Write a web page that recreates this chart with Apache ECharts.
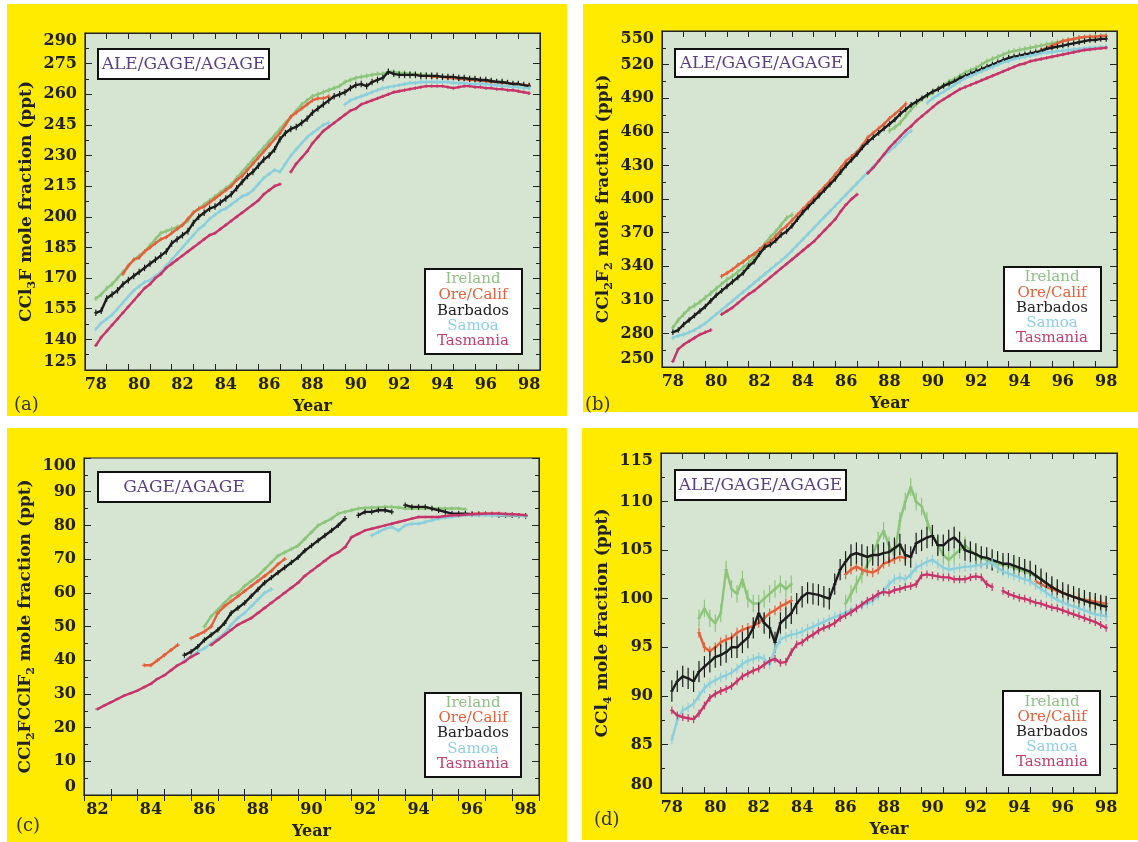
<!DOCTYPE html>
<html><head><meta charset="utf-8">
<script src="https://cdn.jsdelivr.net/npm/echarts@6/dist/echarts.min.js"></script>
<style>html,body{margin:0;padding:0;background:#fff}#c{width:1138px;height:842px}</style>
</head><body><div id="c"></div><script>
// ---------- DATA ----------
const stations = ['Ireland', 'Ore/Calif', 'Barbados', 'Samoa', 'Tasmania'];
const xTicksABD = [78,79,80,81,82,83,84,85,86,87,88,89,90,91,92,93,94,95,96,97,98,99];
const xLabelsABD = [78,80,82,84,86,88,90,92,94,96,98];
const xTicksC = [82,83,84,85,86,87,88,89,90,91,92,93,94,95,96,97,98,99];
const xLabelsC = [82,84,86,88,90,92,94,96,98];
const yTicksA = [125,140,155,170,185,200,215,230,245,260,275,290];
const yTicksB = [250,280,310,340,370,400,430,460,490,520,550];
const yTicksC = [0,10,20,30,40,50,60,70,80,90,100];
const yTicksD = [80,85,90,95,100,105,110,115];
// quarterly samples: four values per year (Jan, Apr, Jul, Oct)
const firstYearABD = 78, firstYearC = 82;

// (a) CCl3F
const cfc11Ireland = [null,null,160,162, 165,167,170,173, 176,179,181,183, 186,189,192,193, 194,195,196,198, 202,204,206,208, 210,212,214,216, 219,222,225,228, 231,234,237,240, 243,246,249,252, 255,257,259,260, 261,262,263,264, 266,267,268,268.5, 269,269.5,270,270, 271,271,270.5,270.5, 270,270,269.5,269.5, 269,269,268.5,268.5, 268,268,267.5,267.5, 267,267,266.5,266.5, 266,266,265.5,265, 265,264.5,264.5,null];
const cfc11OreCalif = [null,null,null,null, null,null,null,172, 176,179,180,183, 185,187,189,190, 192,194,196,199, 202,204,205,207, 209,211,213,215, 218,220,223,226, 229,232,235,238, 241,245,249,251, 253,255,257,258, 258,259,null,null, null,null,null,null, null,null,null,null, null,null,null,null, null,null,null,null, 268.5,268.5,268.5,268, 268,267.5,267.5,267, 267,266.5,266.5,266, 266,265.5,265.5,265, 265,264.5,264.5,null];
const cfc11Barbados = [null,null,153,154, 160,162,164,167, 169,171,173,175, 177,179,181,183, 187,189,191,193, 197,200,202,204, 205,207,209,211, 214,217,220,222, 225,228,230,233, 238,241,243,244, 246,248,251,253, 255,257,259,260, 261,263,264.5,265, 264,266,267,268, 271,270,269.5,269.5, 269.5,269.5,269,269, 269,269,268.5,268.5, 268.5,268,268,267.5, 267.5,267,267,266.5, 266,266,265.5,265, 265,264.5,264,null];
const cfc11Samoa = [null,null,145,148, 150,152,155,158, 161,164,166,168, 169,171,173,176, 179,182,185,188, 191,194,196,199, 201,203,204,206, 208,210,211,213, 216,219,221,223, 222,226,230,233, 236,239,241,243, 245,246,null,null, 255,257,258,259, 260,261,262,263, 263.5,264,264.5,265, 265.5,265.5,266,266, 266,266,266,266, 265.5,265.5,265.5,265, 265,265,265,264.5, 264.5,264,264,263.5, 263.5,263,263,null];
const cfc11Tasmania = [null,null,137,141, 144,147,150,153, 156,159,162,165, 167,170,172,175, 177,179,181,183, 185,187,189,191, 192,194,196,198, 200,202,204,206, 208,211,213,215, 216,null,222,226, 229,232,236,239, 242,244,246,248, 250,252,253,255, 256,257,258,259, 260,261,261.5,262, 262.5,263,263.5,264, 264,264,264,263.5, 263,263.5,264,264, 263.5,263.5,263,263, 262.5,262.5,262,262, 261.5,261,260.5,null];

// (b) CCl2F2
const cfc12Ireland = [null,null,285,292, 297,302,305,308, 312,316,320,324, 328,331,335,339, 343,348,354,360, 366,371,377,383, 386,null,null,null, null,null,null,null, null,null,null,null, null,null,null,null, null,null,461,464, 468,474,480,485, 489,492,495,499, 502,505,507,510, 513,515,517,520, 523,525,527,529, 531,532,533,534, 535,536,537,538, 539,540,541,542, 543,544,544.5,545, 545,545.5,546,null];
const cfc12OreCalif = [null,null,null,null, null,null,null,null, null,null,null,331, 334,337,341,344, 348,351,355,359, 362,367,372,376, 381,386,391,396, 401,406,411,416, 422,428,434,438, 442,448,455,459, 463,467,472,476, 480,485,null,null, null,null,null,null, null,null,null,null, null,null,null,null, null,null,null,null, null,null,null,null, null,null,533,535, 537,539,541,542, 543,544,544.5,545, 545,545.5,545.5,null];
const cfc12Barbados = [null,null,281,283, 288,292,296,300, 304,309,314,318, 322,326,330,334, 340,344,351,357, 359,363,368,371, 376,382,388,393, 398,403,408,413, 418,424,430,435, 440,446,451,455, 459,463,467,471, 476,480,484,487, 490,493,496,498, 501,503,505,508, 510,512,514,516, 518,520,522,524, 526,527,528,529, 530,531,532,534, 535,536,537,538, 539,540,541,542, 542,543,543,null];
const cfc12Samoa = [null,null,276,278, 279,281,283,286, 289,293,297,301, 305,309,313,317, 321,325,329,333, 337,341,345,349, 354,359,364,369, 374,379,384,389, 394,399,404,409, 414,419,424,429, 434,439,443,447, 452,457,461,null, null,486,490,493, 496,499,502,505, 508,510,512,514, 516,518,520,522, 523,525,526,527, 528,529,530,531, 531,532,532.5,533, 533.5,534,534.5,535, 535,535.5,536,null];
const cfc12Tasmania = [null,null,255,266, 270,273,276,279, 281,283,null,297, 300,303,307,311, 315,318,322,326, 330,334,338,342, 346,350,354,358, 362,367,372,377, 382,389,395,400, 404,null,423,428, 434,440,446,451, 456,461,465,470, 474,478,482,486, 489,492,495,498, 500,502,504,506, 508,510,512,514, 516,518,520,521, 523,524,525,526, 527,528,529,530, 531,532,533,533.5, 534,534.5,535,null];

// (c) CCl2FCClF2  (from 1982)
const cfc113Ireland = [null,null,null,null, null,null,null,null, null,null,null,null, null,null,null,null, null,null,50,53, 55,57,59,60, 62,63.5,65,67, 69,71,72,73, 74,76,78,80, 81,82,83.5,84, 84.5,85,85.2,85.3, 85.3,85.5,85.5,85.3, 85,85,85,85, 85,85,85,85, 85,84.8,null,null, null,null,null,null, null,null,null,null];
const cfc113OreCalif = [null,null,null,null, null,null,null,null, null,38.5,38.5,40, 41.5,43,44.5,null, 46.5,47.5,48.5,50, 54,56,57.5,59, 60.5,62,63.5,65, 66.5,68.5,70,null, null,null,null,null, null,null,null,null, null,null,null,null, null,null,null,null, null,null,null,null, null,null,null,null, null,null,83.5,83.5, 83.5,83.5,83.5,83.3, 83.2,83.1,83,null];
const cfc113Barbados = [null,null,null,null, null,null,null,null, null,null,null,null, null,null,null,41.5, 42.5,44,46,47.5, 49,51,54,55.5, 57,59,61,63, 64.5,66,67.5,69, 70.5,72.5,74,75.5, 77,78.5,80,82, null,83,84,84, 84.5,84.5,84,null, 86,85.5,85.5,85.5, 85,84.5,84,83.5, 83.5,83.5,83.3,83.3, 83.3,83.2,83,83, 83,82.9,82.8,null];
const cfc113Samoa = [null,null,null,null, null,null,null,null, null,null,null,null, null,null,null,40, 41,42.5,43.5,45, 46.5,48,50.5,52.5, 54,56,58,60, 61,null,null,null, null,null,null,null, null,null,null,null, null,null,null,77, 78,79,79.5,78.5, 80,80.5,80.5,81, 81.5,82,82.3,82.5, 82.8,83,83,83, 83,83,83,83, 83,82.9,82.8,null];
const cfc113Tasmania = [null,null,25.5,26.5, 27.5,28.5,29.5,30.2, 31,32,33,34.5, 35.5,37,38.5,39.5, 41,42,null,44.5, 46,47.5,49,50.5, 51.5,52.5,54,55.5, 57,58.5,60,61.5, 63,65,66.5,68, 69.5,71,72,73.5, 76.5,77.5,78.5,79, 79.5,80,80.5,81, 81.5,82,82.5,82.5, 82.5,82.5,82.8,83, 83,83.2,83.3,83.4, 83.5,83.5,83.5,83.4, 83.3,83.2,83,null];

// (d) CCl4
const ccl4Ireland = [null,null,null,null, null,null,null,98, 99,98,97.5,98.5, 103,101,100.5,102, 100,99.5,99.5,100, 100.5,101,101.5,101, 101.5,null,null,null, null,null,null,null, null,null,99.5,100.5, 101.5,102.5,103.5,104.5, 106,107,105.5,104.5, 108,110,111.5,110, 109.5,108,106.5,105.5, 104.5,104,104.5,105, 105.5,105,104.5,104.2, 104,103.8,103.6,103.5, 103.4,103.2,103,102.8, 102.6,102.3,102,101.6, 101.2,100.9,100.6,100.4, 100.2,100,99.9,99.8, 99.6,99.4,99.3,null];
const ccl4OreCalif = [null,null,null,null, null,null,null,96.5, 95,94.6,95,95.5, 95.8,96,96.5,96.8, 97,97.2,97.5,98, 98.5,98.8,99.2,99.5, 99.8,null,null,null, null,null,null,null, null,null,102.5,103, 103.3,103,102.8,102.7, 103,103.6,103.8,104.1, 104.3,104.2,null,null, null,null,null,null, null,null,null,null, null,null,null,null, null,null,null,null, null,null,null,null, null,101.8,101.5,101.2, 101,100.8,100.6,100.4, 100.2,100,99.9,99.8, 99.7,99.6,99.5,null];
const ccl4Barbados = [null,null,90.5,91.5, 92,91.8,91.5,92.5, 93,93.5,94,94.2, 94.5,95,95,95.5, 96,97,98.5,97.5, 97,95.5,97.5,98, 98.5,99.5,100.2,100.6, 100.5,100.4,100.2,100, 101.5,103,103.8,104.5, 104.7,104.5,104.3,104.5, 104.5,104.7,104.8,105.2, 105.6,104.5,104.3,105.7, 106,106.3,106.5,105.5, 105.5,106,106.3,105.8, 105,104.8,104.6,104.3, 104.2,104,103.8,103.6, 103.6,103.4,103.2,103, 102.8,102.4,102,101.6, 101.2,100.9,100.6,100.4, 100.2,100,99.8,99.6, 99.5,99.3,99.2,null];
const ccl4Samoa = [null,null,85.5,87.5, 88.5,88.8,89.2,90, 90.8,91.3,91.6,91.9, 92.1,92.4,92.8,93.3, 93.6,93.8,94,93.8, 93.2,94.8,95.8,96.1, 96.3,96.4,96.6,96.9, 97.1,97.4,97.6,97.9, 98.1,98.3,98.6,98.8, 99,99.3,99.5,99.8, 100.3,100.8,101.5,102, 102.2,102,102.5,103.2, 103.5,103.8,104,103.6, 103.2,103,103.1,103.2, 103.3,103.3,103.4,103.5, 103.6,103.7,103.2,102.8, 102.6,102.4,102.2,102, 101.8,101.4,101,100.6, 100.2,99.9,99.6,99.4, 99.2,99,98.8,98.6, 98.4,98.3,98.2,null];
const ccl4Tasmania = [null,null,88.5,88, 87.8,87.7,87.6,88.2, 89,89.8,90.2,90.5, 90.7,91,91.5,92, 92.3,92.6,92.8,93.2, 93.6,93.8,93.4,93.5, 94.5,95.3,95.5,96, 96.3,96.7,97,97.2, 97.5,98,98.3,98.6, 99,99.4,99.8,100.1, 100.5,100.7,100.6,100.9, 101,101.2,101.3,101.5, 102.4,102.5,102.4,102.3, 102.2,102.2,102,102, 102,102.2,102.3,102.2, 101.5,101.2,null,100.8, 100.5,100.3,100.1,100, 99.8,99.6,99.5,99.3, 99.1,99,98.8,98.6, 98.4,98.2,98,97.8, 97.6,97.3,97,null];

// typical measurement spread (ppt, half-width of error bars) per station
const errA = [1.2, 1.0, 1.6, 1.0, 0.8];
const errB = [2.5, 2.0, 2.5, 2.0, 1.5];
const errC = [0.6, 0.6, 0.8, 0.6, 0.4];
const errD = [0.9, 0.5, 1.1, 0.5, 0.4];

// ---------- STYLE ----------
const seriesColors = ['#8cc47a', '#e4603c', '#1c1c1c', '#8ccfdc', '#c8336a'];
const legendColors = ['#8fbf85', '#e0603a', '#222222', '#8fcfe0', '#c04070'];
const SERIF = '"DejaVu Serif", "Liberation Serif", serif';
const YELLOW = '#ffeb00';
const PLOTBG = '#d5e5d1';

const panels = [
  {grid:{left:85, top:33, width:455, height:337}, first:firstYearABD, xmin:78, xmax:99, xTicks:xTicksABD, xLabels:xLabelsABD,
   ymin:125, ymax:290, yint:15, yName:['CCl','3','F mole fraction (ppt)'],
   data:[cfc11Ireland,cfc11OreCalif,cfc11Barbados,cfc11Samoa,cfc11Tasmania], err:errA,
   yellow:[7,4,560,412], tag:'(a)', tagPos:[14,405], title:'ALE/GAGE/AGAGE', titleBox:[98,49,171,30],
   legendBox:[425,269,97,85], legendX:473, legendY:[279,295,311,326,341]},
  {grid:{left:662, top:31, width:455, height:336}, first:firstYearABD, xmin:78, xmax:99, xTicks:xTicksABD, xLabels:xLabelsABD,
   ymin:250, ymax:550, yint:30, yName:['CCl','2','F','2',' mole fraction (ppt)'],
   data:[cfc12Ireland,cfc12OreCalif,cfc12Barbados,cfc12Samoa,cfc12Tasmania], err:errB,
   yellow:[583,4,555,408], tag:'(b)', tagPos:[585,405], title:'ALE/GAGE/AGAGE', titleBox:[675,49,173,28],
   legendBox:[1004,267,97,84], legendX:1052, legendY:[277,293,308,323,338]},
  {grid:{left:84, top:458, width:455, height:337}, first:firstYearC, xmin:82, xmax:99, xTicks:xTicksC, xLabels:xLabelsC,
   ymin:0, ymax:100, yint:10, yName:['CCl','2','FCClF','2',' mole fraction (ppt)'],
   data:[cfc113Ireland,cfc113OreCalif,cfc113Barbados,cfc113Samoa,cfc113Tasmania], err:errC,
   yellow:[7,428,560,414], tag:'(c)', tagPos:[16,826], title:'GAGE/AGAGE', titleBox:[98,472,172,30],
   legendBox:[425,693,96,84], legendX:473, legendY:[703,718,733,749,764]},
  {grid:{left:661, top:453, width:456, height:340}, first:firstYearABD, xmin:78, xmax:99, xTicks:xTicksABD, xLabels:xLabelsABD,
   ymin:80, ymax:115, yint:5, yName:['CCl','4',' mole fraction (ppt)'],
   data:[ccl4Ireland,ccl4OreCalif,ccl4Barbados,ccl4Samoa,ccl4Tasmania], err:errD,
   yellow:[582,428,556,412], tag:'(d)', tagPos:[594,820], title:'ALE/GAGE/AGAGE', titleBox:[675,470,171,30],
   legendBox:[1003,691,97,84], legendX:1052, legendY:[702,717,732,747,762]}
];

// ---------- BUILD ----------
const grids = [], xAxes = [], yAxes = [], series = [], graphics = [];
const tickLine = {color:'#222', width:1};
panels.forEach((p, i) => {
  grids.push(Object.assign({show:true, backgroundColor:PLOTBG, borderColor:'#222', borderWidth:1.2, containLabel:false}, p.grid));
  const labelVals = p.xLabels.map(v => v + 0.5);
  xAxes.push({gridIndex:i, type:'value', min:p.xmin, max:p.xmax, interval:1, position:'bottom',
    axisLine:{show:true, lineStyle:tickLine}, splitLine:{show:false},
    axisTick:{show:true, inside:true, length:6, customValues:p.xTicks, lineStyle:tickLine},
    axisLabel:{show:true, customValues:labelVals, formatter:v => String(Math.floor(v)), margin:7,
      fontFamily:SERIF, fontWeight:'bold', fontSize:16, color:'#222'},
    name:'Year', nameLocation:'middle', nameGap:29,
    nameTextStyle:{fontFamily:SERIF, fontWeight:'bold', fontSize:16, color:'#222'}});
  xAxes.push({gridIndex:i, type:'value', min:p.xmin, max:p.xmax, interval:1, position:'top',
    axisLine:{show:true, lineStyle:tickLine}, splitLine:{show:false},
    axisTick:{show:true, inside:true, length:6, customValues:p.xTicks, lineStyle:tickLine},
    axisLabel:{show:false}});
  const rich = {m:{fontFamily:SERIF, fontWeight:'bold', fontSize:17, color:'#222', lineHeight:22},
                s:{fontFamily:SERIF, fontWeight:'bold', fontSize:11, color:'#222', lineHeight:8, verticalAlign:'bottom'}};
  const nm = p.yName.map((t, k) => (k % 2 === 0 ? '{m|' : '{s|') + t + '}').join('');
  yAxes.push({gridIndex:i, type:'value', min:p.ymin, max:p.ymax, interval:p.yint, position:'left',
    axisLine:{show:true, lineStyle:tickLine}, splitLine:{show:false},
    axisTick:{show:true, inside:true, length:7, lineStyle:tickLine},
    minorTick:{show:true, splitNumber:2, length:4, lineStyle:tickLine},
    axisLabel:{show:true, margin:8, fontFamily:SERIF, fontWeight:'bold', fontSize:16, color:'#222',
      verticalAlignMinLabel:'bottom', verticalAlignMaxLabel:'top'},
    name:nm, nameLocation:'middle', nameGap:47, nameRotate:90, nameTextStyle:{rich:rich}});
  yAxes.push({gridIndex:i, type:'value', min:p.ymin, max:p.ymax, interval:p.yint, position:'right',
    axisLine:{show:true, lineStyle:tickLine}, splitLine:{show:false},
    axisTick:{show:true, inside:true, length:7, lineStyle:tickLine},
    minorTick:{show:true, splitNumber:2, length:4, lineStyle:tickLine},
    axisLabel:{show:false}});

  p.data.forEach((arr, s) => {
    const pts = arr.map((v, k) => [p.first + k * 0.25, v]);
    const color = seriesColors[s];
    series.push({type:'line', name:stations[s], xAxisIndex:2*i, yAxisIndex:2*i, data:pts,
      showSymbol:false, symbol:'none', connectNulls:false, animation:false, z:3+s,
      lineStyle:{color:color, width:2.4}});
    const e = p.err[s];
    series.push({type:'custom', name:stations[s], xAxisIndex:2*i, yAxisIndex:2*i, animation:false, z:3+s, clip:true,
      data:pts.filter(d => d[1] != null),
      renderItem:(params, api) => {
        const x = api.value(0), v = api.value(1);
        const a = api.coord([x, v + e]), b = api.coord([x, v - e]);
        const c1 = api.coord([x - 0.08, v]), c2 = api.coord([x + 0.08, v]);
        return {type:'group', children:[
          {type:'line', shape:{x1:a[0], y1:a[1], x2:b[0], y2:b[1]}, style:{stroke:color, lineWidth:1.2}},
          {type:'line', shape:{x1:c1[0], y1:c1[1], x2:c2[0], y2:c2[1]}, style:{stroke:color, lineWidth:1.2}}
        ]};
      }});
  });

  // panel background
  graphics.push({type:'rect', z:-10, silent:true, shape:{x:p.yellow[0], y:p.yellow[1], width:p.yellow[2], height:p.yellow[3]}, style:{fill:YELLOW}});
  graphics.push({type:'text', z:50, style:{text:p.tag, x:p.tagPos[0], y:p.tagPos[1], textVerticalAlign:'middle', fill:'#333', font:'18px ' + SERIF}});
  const tb = p.titleBox;
  graphics.push({type:'rect', z:50, shape:{x:tb[0], y:tb[1], width:tb[2], height:tb[3]}, style:{fill:'#ffffff', stroke:'#111', lineWidth:2}});
  graphics.push({type:'text', z:51, style:{text:p.title, x:tb[0] + tb[2]/2, y:tb[1] + tb[3]/2 + 1, textAlign:'center', textVerticalAlign:'middle', fill:'#5a4080', font:'17px ' + SERIF}});
  const lb = p.legendBox;
  graphics.push({type:'rect', z:50, shape:{x:lb[0], y:lb[1], width:lb[2], height:lb[3]}, style:{fill:'#ffffff', stroke:'#111', lineWidth:2}});
  stations.forEach((nmS, s) => {
    graphics.push({type:'text', z:51, style:{text:nmS, x:p.legendX, y:p.legendY[s], textAlign:'center', textVerticalAlign:'middle', fill:legendColors[s], font:'15px ' + SERIF}});
  });
});

const chart = echarts.init(document.getElementById('c'), null, {renderer:'canvas'});
chart.setOption({
  backgroundColor:'#ffffff', animation:false,
  grid:grids, xAxis:xAxes, yAxis:yAxes, series:series,
  graphic:{elements:graphics}
});
</script></body></html>
